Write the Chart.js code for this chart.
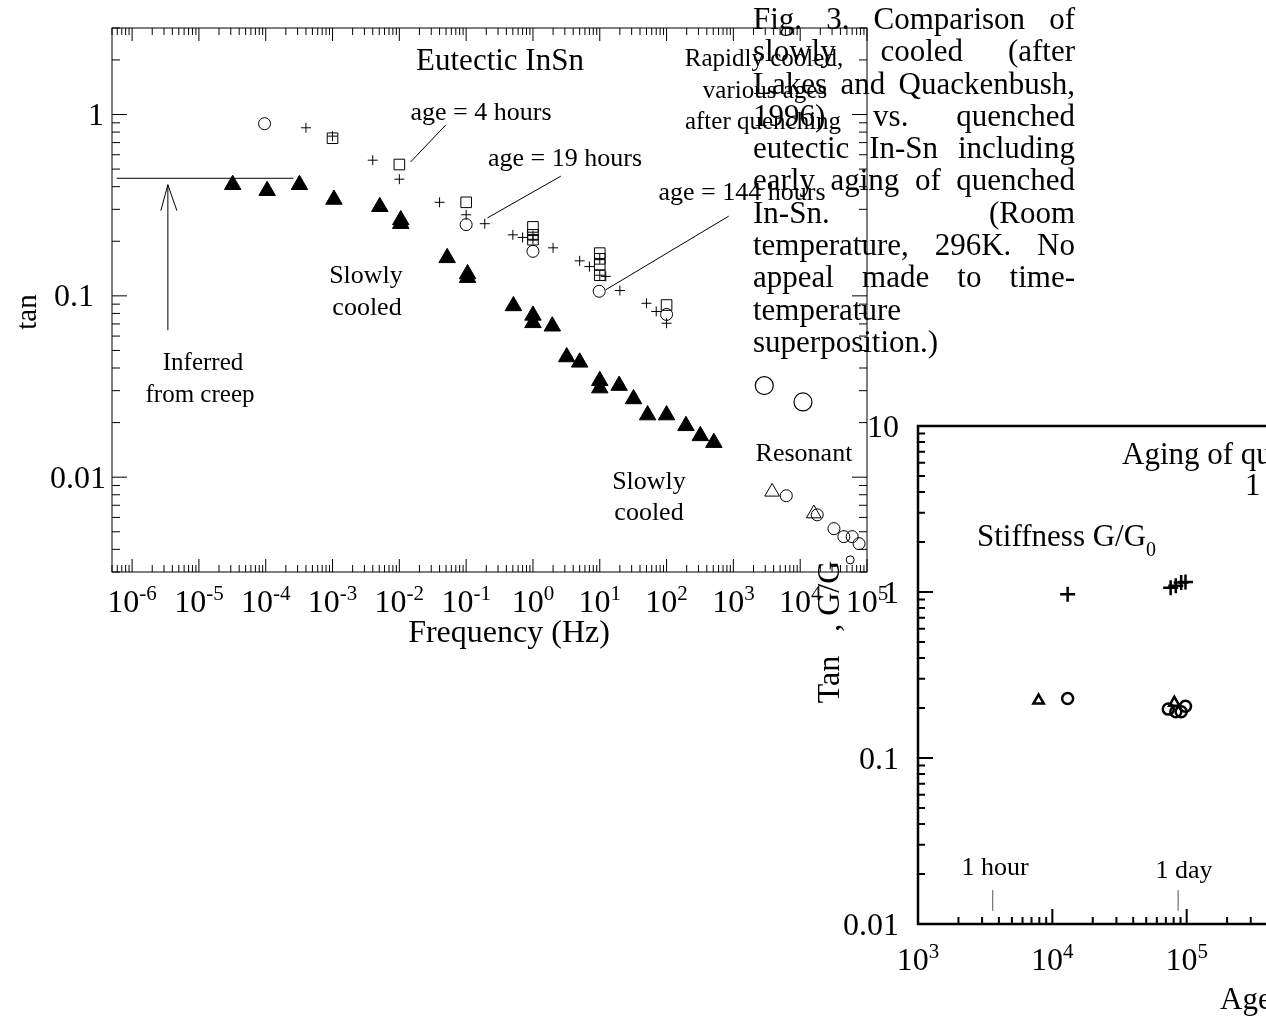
<!DOCTYPE html>
<html>
<head>
<meta charset="utf-8">
<title>Eutectic InSn - tan delta vs frequency, aging of quenched In-Sn</title>
<script src="https://cdn.jsdelivr.net/npm/chart.js@4.4.0/dist/chart.umd.min.js"></script>
<style>
  html, body { margin: 0; padding: 0; background: #fff; width: 1266px; height: 1021px; overflow: hidden; }
  canvas { position: absolute; }
  #freqChart { left: 0; top: 0; }
  #ageChart { left: 780px; top: 400px; }
  #caption { position: absolute; left: 753px; top: 3px; width: 322px; color: #000;
             font: 31px/32.3px "Liberation Serif", "Times New Roman", serif; }
  #caption div { display: flex; justify-content: space-between; height: 32.3px; white-space: pre; }
</style>
</head>
<body>
<canvas id="freqChart" width="900" height="660"></canvas>
<canvas id="ageChart" width="560" height="621"></canvas>
<div id="caption"></div>
<script>
/* globals Chart */

// ---- main panel: tan delta vs frequency (Hz) ----
const freqMin = 5e-7, freqMax = 1e5;
const tanMin = 0.003, tanMax = 3;
const freqTickExps = [-6, -5, -4, -3, -2, -1, 0, 1, 2, 3, 4, 5];
const tanTickVals = [1, 0.1, 0.01];
const tanTickText = ["1", "0.1", "0.01"];

// slowly cooled (filled triangles)
const slowFreq = [3.2e-5, 1.05e-4, 3.2e-4, 1.05e-3, 5.1e-3, 1.05e-2, 1.05e-2, 0.052, 0.105, 0.105,
  0.51, 1.0, 1.0, 1.95, 3.2, 5.0, 10, 10, 19.5, 32, 52, 100, 195, 320, 510];
const slowTan = [0.41, 0.38, 0.41, 0.34, 0.31, 0.262, 0.25, 0.162, 0.132, 0.126,
  0.088, 0.078, 0.071, 0.068, 0.046, 0.043, 0.034, 0.031, 0.032, 0.027, 0.022, 0.022, 0.0192, 0.0169, 0.0155];

// rapidly cooled, various ages after quenching
const quenchCircFreq = [9.6e-5, 0.1, 1.0, 9.8, 100];
const quenchCircTan = [0.89, 0.247, 0.176, 0.106, 0.079];
const quenchPlusFreq = [4e-4, 1e-3, 4e-3, 0.01, 0.04, 0.1, 0.19, 0.5, 0.7, 1, 1, 2, 5, 7, 10, 10, 12.3, 20, 50, 70, 100];
const quenchPlusTan = [0.845, 0.76, 0.56, 0.44, 0.328, 0.28, 0.25, 0.217, 0.21, 0.215, 0.205,
  0.184, 0.156, 0.145, 0.16, 0.13, 0.128, 0.107, 0.091, 0.082, 0.0706];
const quenchSqFreq = [1e-3, 1e-2, 0.1, 1, 1, 1, 10, 10, 10, 10, 100];
const quenchSqTan = [0.74, 0.53, 0.328, 0.24, 0.217, 0.204, 0.172, 0.16, 0.148, 0.13, 0.089];

// resonant
const bigCircFreq = [2.9e3, 1.1e4];
const bigCircTan = [0.032, 0.026];
const resCircFreq = [6.2e3, 1.8e4, 3.2e4, 4.5e4, 6e4, 7.6e4];
const resCircTan = [0.0079, 0.0062, 0.0052, 0.0047, 0.0047, 0.0043];
const resDotFreq = [5.6e4];
const resDotTan = [0.0035];
const resTriFreq = [3.8e3, 1.6e4];
const resTriTan = [0.0083, 0.0063];

// inferred from creep + leader lines
const creepLevelFreq = [5.9e-7, 2.6e-4];
const creepLevelTan = [0.445, 0.445];
const creepArrowFreq = [3.43e-6, 3.43e-6];
const creepArrowTan = [0.0646, 0.41];
const arrowHeadFreq = [2.69e-6, 3.43e-6, 4.68e-6];
const arrowHeadTan = [0.295, 0.41, 0.295];
const lead4hFreq = [0.0148, 0.0493], lead4hTan = [0.548, 0.874];
const lead19hFreq = [0.208, 2.61], lead19hTan = [0.269, 0.457];
const lead144hFreq = [12.3, 851], lead144hTan = [0.108, 0.275];

// ---- inset: aging of quenched In-Sn vs age (s) ----
const ageMin = 1e3, ageMax = 1e6;
const valMin = 0.01, valMax = 10;
const ageTickExps = [3, 4, 5, 6];
const valTickVals = [10, 1, 0.1, 0.01];
const valTickText = ["10", "1", "0.1", "0.01"];
const stiffAge = [1.3e4, 7.6e4, 8.3e4, 9.1e4, 9.8e4];
const stiffG = [0.97, 1.06, 1.09, 1.14, 1.15];
const ageCircAge = [1.3e4, 7.3e4, 8.3e4, 9.1e4, 9.8e4];
const ageCircTan = [0.228, 0.197, 0.19, 0.19, 0.205];
const ageTriAge = [7.9e3, 8.1e4];
const ageTriTan = [0.222, 0.215];
const hourAge = [3600, 3600], dayAge = [86400, 86400];
const markTan = [0.012, 0.016];

const captionLines = [
  "Fig. 3. Comparison of", "slowly cooled (after", "Lakes and Quackenbush,", "1996) vs. quenched",
  "eutectic In-Sn including", "early aging of quenched", "In-Sn. (Room", "temperature, 296K. No",
  "appeal made to time-", "temperature", "superposition.)"
];

const SERIF = '"Liberation Serif", "Times New Roman", serif';
const pts = (xs, ys) => xs.map((x, i) => ({ x, y: ys[i] }));

function marks(label, xs, ys, shape, r, w, fill) {
  return {
    label, data: pts(xs, ys), showLine: false,
    pointStyle: shape, pointRadius: r, pointBorderWidth: w,
    pointBorderColor: "#000", pointBackgroundColor: fill || "rgba(0,0,0,0)",
  };
}
function guide(label, xs, ys, color, w) {
  return {
    label, data: pts(xs, ys), showLine: true, pointRadius: 0,
    borderColor: color || "#000", borderWidth: w || 1, fill: false,
  };
}

function logTicks(min, max) {
  const out = [];
  for (let e = Math.floor(Math.log10(min)); e <= Math.ceil(Math.log10(max)); e++) {
    for (let k = 1; k <= 9; k++) {
      const v = k * Math.pow(10, e);
      if (v >= min * 0.9999 && v <= max * 1.0001) out.push({ v, major: k === 1 });
    }
  }
  return out;
}

function drawPow(ctx, exp, cx, base, size, supSize, rise) {
  ctx.textAlign = "left";
  ctx.textBaseline = "alphabetic";
  ctx.font = size + "px " + SERIF;
  const w1 = ctx.measureText("10").width;
  ctx.font = supSize + "px " + SERIF;
  const w2 = ctx.measureText(String(exp)).width;
  const x0 = cx - (w1 + w2) / 2;
  ctx.font = size + "px " + SERIF;
  ctx.fillText("10", x0, base);
  ctx.font = supSize + "px " + SERIF;
  ctx.fillText(String(exp), x0 + w1, base - rise);
}

// frame, inward ticks, tick labels and free text for one panel
function framePlugin(cfg) {
  return {
    id: "frame_" + cfg.name,
    beforeDatasetsDraw(chart) {
      const { ctx, chartArea: a } = chart;
      const xs = chart.scales.x, ys = chart.scales.y;
      ctx.save();
      ctx.strokeStyle = "#000";
      ctx.lineWidth = cfg.frameWidth;
      ctx.strokeRect(a.left, a.top, a.right - a.left, a.bottom - a.top);
      ctx.lineWidth = cfg.tickWidth;
      ctx.beginPath();
      for (const t of logTicks(xs.min, xs.max)) {
        const px = xs.getPixelForValue(t.v);
        const len = t.major ? cfg.xMajor : cfg.xMinor;
        if (cfg.sides.includes("bottom")) { ctx.moveTo(px, a.bottom); ctx.lineTo(px, a.bottom - len); }
        if (cfg.sides.includes("top")) { ctx.moveTo(px, a.top); ctx.lineTo(px, a.top + len); }
      }
      for (const t of logTicks(ys.min, ys.max)) {
        const py = ys.getPixelForValue(t.v);
        const len = t.major ? cfg.yMajor : cfg.yMinor;
        if (cfg.sides.includes("left")) { ctx.moveTo(a.left, py); ctx.lineTo(a.left + len, py); }
        if (cfg.sides.includes("right")) { ctx.moveTo(a.right, py); ctx.lineTo(a.right - len, py); }
      }
      ctx.stroke();

      ctx.fillStyle = "#000";
      cfg.xExps.forEach((e) => {
        const px = xs.getPixelForValue(Math.pow(10, e));
        drawPow(ctx, e, px, a.bottom + cfg.xLabelGap, cfg.tickSize, cfg.supSize, cfg.supRise);
      });
      ctx.font = cfg.tickSize + "px " + SERIF;
      ctx.textAlign = "right";
      ctx.textBaseline = "alphabetic";
      cfg.yVals.forEach((v, i) => {
        const py = ys.getPixelForValue(v);
        const nudge = cfg.yNudge ? cfg.yNudge[i] : 0;
        ctx.fillText(cfg.yText[i], a.left - cfg.yLabelGap + nudge, py + cfg.tickSize * 0.33);
      });
      ctx.restore();
    },
    afterDraw(chart) {
      const ctx = chart.ctx;
      ctx.save();
      ctx.fillStyle = "#000";
      for (const n of cfg.notes) {
        const x = n.x - cfg.offset[0], y = n.y - cfg.offset[1];
        ctx.font = n.s + "px " + SERIF;
        ctx.textBaseline = "middle";
        if (n.rot) {
          ctx.save();
          ctx.translate(x, y);
          ctx.rotate(-Math.PI / 2);
          ctx.textAlign = "center";
          ctx.fillText(n.t, 0, 0);
          ctx.restore();
          continue;
        }
        ctx.textAlign = n.align || "center";
        ctx.fillText(n.t, x, y);
        if (n.sub) {
          const w = ctx.measureText(n.t).width;
          ctx.font = Math.round(n.s * 0.65) + "px " + SERIF;
          ctx.textAlign = "left";
          ctx.fillText(n.sub, x + w, y + n.s * 0.42);
        }
      }
      ctx.restore();
    },
  };
}

const freqFrame = framePlugin({
  name: "freq", offset: [0, 0], sides: ["bottom", "top", "left", "right"],
  frameWidth: 1, tickWidth: 1, xMajor: 13, xMinor: 7, yMajor: 15, yMinor: 8,
  xExps: freqTickExps, yVals: tanTickVals, yText: tanTickText, yNudge: [0, -10, 2],
  tickSize: 32, supSize: 21, supRise: 12, xLabelGap: 40, yLabelGap: 8,
  notes: [
    { t: "Eutectic InSn", x: 500, y: 61.5, s: 31 },
    { t: "age = 4 hours", x: 481, y: 113.5, s: 26 },
    { t: "age = 19 hours", x: 565, y: 159, s: 26 },
    { t: "age = 144 hours", x: 742, y: 193, s: 26 },
    { t: "Rapidly cooled,", x: 764, y: 59.5, s: 25 },
    { t: "various ages", x: 765, y: 91, s: 25 },
    { t: "after quenching", x: 763, y: 122, s: 25 },
    { t: "Slowly", x: 366, y: 276, s: 26 },
    { t: "cooled", x: 367, y: 308, s: 26 },
    { t: "Inferred", x: 203, y: 363, s: 25 },
    { t: "from creep", x: 200, y: 395, s: 25 },
    { t: "Slowly", x: 649, y: 482, s: 26 },
    { t: "cooled", x: 649, y: 513, s: 26 },
    { t: "Resonant", x: 804, y: 454, s: 26 },
    { t: "Frequency (Hz)", x: 509, y: 634, s: 32 },
    { t: "tan", x: 28, y: 312, s: 29, rot: true },
  ],
});

const ageFrame = framePlugin({
  name: "age", offset: [780, 400], sides: ["bottom", "left"],
  frameWidth: 2.5, tickWidth: 2, xMajor: 15, xMinor: 7, yMajor: 15, yMinor: 7,
  xExps: ageTickExps, yVals: valTickVals, yText: valTickText,
  tickSize: 32, supSize: 21, supRise: 12, xLabelGap: 46, yLabelGap: 19,
  notes: [
    { t: "Aging of quenched In-Sn", x: 1122, y: 456, s: 31, align: "left" },
    { t: "1 Hz", x: 1245, y: 487, s: 31, align: "left" },
    { t: "Stiffness G/G", x: 977, y: 538, s: 31, align: "left", sub: "0" },
    { t: "1 hour", x: 995, y: 868, s: 26 },
    { t: "1 day", x: 1184, y: 871, s: 26 },
    { t: "Age (s)", x: 1220, y: 1001, s: 31, align: "left" },
    { t: "Tan   , G/G", x: 831, y: 632, s: 32, rot: true },
  ],
});

function baseOptions(pad, xr, yr) {
  return {
    responsive: false,
    animation: false,
    events: [],
    layout: { padding: pad },
    scales: {
      x: { type: "logarithmic", min: xr[0], max: xr[1], display: false },
      y: { type: "logarithmic", min: yr[0], max: yr[1], display: false },
    },
    plugins: { legend: { display: false }, tooltip: { enabled: false } },
  };
}

/* exported freqChart ageChart */
const freqChart = new Chart(document.getElementById("freqChart"), {
  type: "scatter",
  data: {
    datasets: [
      guide("creep level", creepLevelFreq, creepLevelTan),
      guide("creep arrow", creepArrowFreq, creepArrowTan),
      guide("arrow head", arrowHeadFreq, arrowHeadTan),
      guide("age = 4 hours", lead4hFreq, lead4hTan),
      guide("age = 19 hours", lead19hFreq, lead19hTan),
      guide("age = 144 hours", lead144hFreq, lead144hTan),
      marks("Slowly cooled", slowFreq, slowTan, "triangle", 9.5, 1, "#000"),
      marks("Quenched, circles", quenchCircFreq, quenchCircTan, "circle", 6, 1),
      marks("Quenched, plus", quenchPlusFreq, quenchPlusTan, "cross", 5, 1),
      marks("Quenched, squares", quenchSqFreq, quenchSqTan, "rect", 7.5, 1),
      marks("Resonant, large", bigCircFreq, bigCircTan, "circle", 9, 1.2),
      marks("Resonant, circles", resCircFreq, resCircTan, "circle", 6, 1),
      marks("Resonant, small", resDotFreq, resDotTan, "circle", 4, 1),
      marks("Resonant, triangles", resTriFreq, resTriTan, "triangle", 8.5, 1),
    ],
  },
  options: baseOptions({ left: 112, top: 28, right: 33, bottom: 88 }, [freqMin, freqMax], [tanMin, tanMax]),
  plugins: [freqFrame],
});

const ageChart = new Chart(document.getElementById("ageChart"), {
  type: "scatter",
  data: {
    datasets: [
      guide("1 hour", hourAge, markTan, "#555", 1),
      guide("1 day", dayAge, markTan, "#555", 1),
      marks("Stiffness G/G0", stiffAge, stiffG, "cross", 7.5, 2.5),
      marks("Tan delta", ageCircAge, ageCircTan, "circle", 5.5, 2.5),
      marks("Tan delta (triangles)", ageTriAge, ageTriTan, "triangle", 6, 2.5),
    ],
  },
  options: baseOptions({ left: 138, top: 26, right: 19, bottom: 97 }, [ageMin, ageMax], [valMin, valMax]),
  plugins: [ageFrame],
});

// caption, justified line by line
const cap = document.getElementById("caption");
captionLines.forEach((line, i) => {
  const row = document.createElement("div");
  const last = i >= captionLines.length - 2;
  if (last) row.style.justifyContent = "flex-start";
  (last ? [line] : line.split(" ")).forEach((w) => {
    const s = document.createElement("span");
    s.textContent = w;
    row.appendChild(s);
  });
  cap.appendChild(row);
});
</script>
</body>
</html>
